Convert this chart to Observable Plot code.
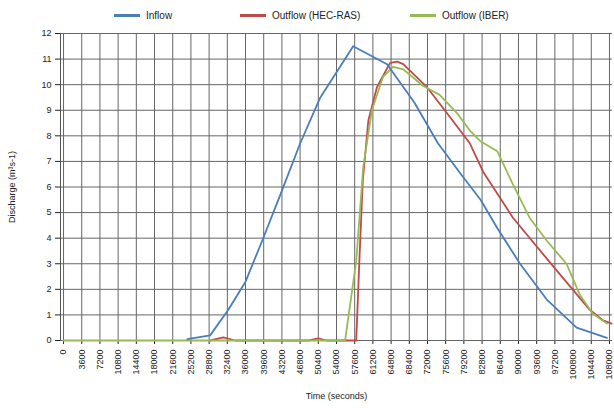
<!DOCTYPE html>
<html>
<head>
<meta charset="utf-8">
<script src="https://cdn.jsdelivr.net/npm/d3@7"></script>
<script src="https://cdn.jsdelivr.net/npm/@observablehq/plot@0.6"></script>
<style>
  html, body { margin: 0; padding: 0; background: #fff; }
  body { width: 614px; height: 408px; overflow: hidden; font-family: "Liberation Sans", Arial, sans-serif; }
  #legend { height: 28px; position: relative; font-size: 10px; color: #222; }
  .item { position: absolute; top: 10px; display: flex; align-items: center; gap: 6px; }
  .sw { width: 26px; height: 3px; display: inline-block; }
</style>
</head>
<body>
<div id="legend"></div>
<div id="chart"></div>
<script>
// Series names and colours
const seriesNames = ["Inflow", "Outflow (HEC-RAS)", "Outflow (IBER)"];
const seriesColors = ["#4a7ebb", "#be4b48", "#98b954"];

// Inflow (time in seconds, discharge m3/s)
const inflowTime = [24500, 29000, 32600, 36000, 39300, 42900, 46800, 50800, 57300, 64000, 69400, 74100, 79000, 82500, 85800, 90300, 95600, 101500, 107500];
const inflowQ    = [0.05, 0.2, 1.2, 2.3, 3.9, 5.7, 7.7, 9.5, 11.5, 10.8, 9.3, 7.7, 6.4, 5.5, 4.4, 3.0, 1.6, 0.5, 0.1];

// Outflow HEC-RAS
const hecTime = [29000, 31600, 34000, 48500, 50400, 52000, 57900, 58500, 59200, 60300, 62000, 64600, 66000, 67200, 71900, 75800, 80400, 83000, 88900, 95600, 100700, 104100, 106600, 108400];
const hecQ    = [0, 0.12, 0, 0, 0.08, 0, 0, 3.0, 6.25, 8.6, 9.9, 10.85, 10.9, 10.8, 9.9, 8.9, 7.7, 6.6, 4.8, 3.2, 2.0, 1.2, 0.8, 0.66];

// Outflow IBER
const iberTime = [0, 55700, 57900, 59300, 61000, 63200, 65200, 67200, 71100, 74400, 77800, 80400, 82400, 85800, 88900, 92200, 95600, 99500, 102100, 104700, 107500];
const iberQ    = [0, 0, 3.1, 6.8, 9.0, 10.3, 10.7, 10.6, 9.96, 9.6, 8.9, 8.2, 7.8, 7.4, 6.1, 4.8, 3.9, 3.0, 1.8, 1.05, 0.66];

// Axis ticks
const xTicks = d3.range(0, 108001, 3600);
const yTicks = d3.range(0, 13, 1);

const toRows = (t, q, s) => t.map((d, i) => ({time: d, q: q[i], series: s}));
const data = [
  ...toRows(hecTime, hecQ, seriesNames[1]),
  ...toRows(iberTime, iberQ, seriesNames[2]),
  ...toRows(inflowTime, inflowQ, seriesNames[0])
];

// Legend
const legend = document.getElementById("legend");
const legendX = [114, 240, 410];
seriesNames.forEach((n, i) => {
  const d = document.createElement("div");
  d.className = "item";
  d.style.left = legendX[i] + "px";
  d.innerHTML = `<span class="sw" style="background:${seriesColors[i]}"></span><span>${n}</span>`;
  legend.appendChild(d);
});

const chart = Plot.plot({
  width: 614,
  height: 380,
  marginLeft: 60,
  marginRight: 2,
  marginTop: 5,
  marginBottom: 68,
  style: {fontFamily: "Liberation Sans, Arial, sans-serif", fontSize: "9px", color: "#222", background: "#fff"},
  x: {domain: [-600, 108600], ticks: xTicks, tickFormat: d => String(d), tickRotate: -90, tickSize: 4, label: "Time (seconds)", labelAnchor: "center", labelArrow: "none", labelOffset: 58},
  y: {domain: [0, 12], ticks: yTicks, tickSize: 5, label: "Discharge (m³s-1)", labelAnchor: "center", labelArrow: "none", labelOffset: 52},
  color: {domain: seriesNames, range: seriesColors},
  marks: [
    Plot.ruleX(xTicks, {stroke: "#666", strokeWidth: 1}),
    Plot.ruleY(yTicks, {stroke: "#666", strokeWidth: 1}),
    Plot.ruleX([-600], {stroke: "#555"}),
    Plot.line(data, {x: "time", y: "q", z: "series", stroke: "series", strokeWidth: 1.8, curve: "linear"})
  ]
});
document.getElementById("chart").appendChild(chart);
</script>
</body>
</html>
